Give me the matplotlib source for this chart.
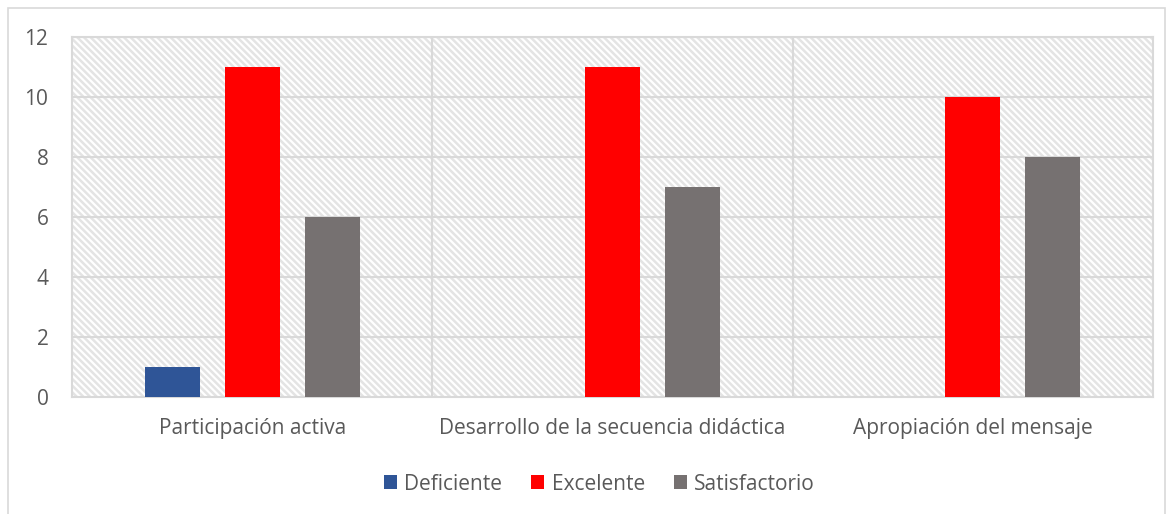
import numpy as np
import matplotlib.pyplot as plt
from matplotlib.patches import Rectangle

categorias = ['Participación activa', 'Desarrollo de la secuencia didáctica', 'Apropiación del mensaje']
series = ['Deficiente', 'Excelente', 'Satisfactorio']
deficiente = [1, 0, 0]
excelente = [11, 11, 10]
satisfactorio = [6, 7, 8]
colores = ['#2F5597', '#FF0000', '#767171']

plt.rcParams['font.family'] = ['Open Sans', 'DejaVu Sans']
plt.rcParams['hatch.color'] = '#E4E4E4'
plt.rcParams['hatch.linewidth'] = 1.8
texto = '#595959'
gris = '#D9D9D9'

fig = plt.figure(figsize=(11.73, 5.14), dpi=100)
ax = fig.add_axes([72 / 1173, 1 - 397 / 514, 1081 / 1173, 360 / 514])

# outer chart border
fig.patches.append(Rectangle((8 / 1173, -0.1), 1157 / 1173, 1.1 - 8 / 514, transform=fig.transFigure,
                             fill=False, edgecolor=gris, linewidth=1.2))

# hatched plot background
ax.add_patch(Rectangle((0, 0), 1, 1, transform=ax.transAxes, facecolor='white',
                       edgecolor='#E4E4E4', hatch='\\\\\\\\\\', linewidth=0, zorder=0))

x = np.arange(len(categorias))
w = 0.153
sep = 0.222
for i, (nombre, vals) in enumerate(zip(series, [deficiente, excelente, satisfactorio])):
    ax.bar(x + (i - 1) * sep, vals, w, color=colores[i], label=nombre, zorder=3)

ax.set_xlim(-0.5, 2.5)
ax.set_ylim(0, 12)
ax.set_yticks(range(0, 13, 2))
ax.set_xticks(x)
ax.set_xticklabels(categorias)
ax.tick_params(axis='both', length=0, labelsize=15, colors=texto)
ax.tick_params(axis='y', pad=17)
ax.tick_params(axis='x', pad=15)

for v in range(2, 13, 2):
    ax.axhline(v, color=gris, linewidth=1.5, zorder=1)
for b in [0.5, 1.5]:
    ax.axvline(b, color=gris, linewidth=1.5, zorder=1)
for s in ax.spines.values():
    s.set_color(gris)
    s.set_linewidth(1.5)

fig.legend(loc='center', bbox_to_anchor=(0.511, 1 - 484 / 514), ncol=3, frameon=False,
           fontsize=15, handlelength=0.62, handleheight=0.62, handletextpad=0.35,
           columnspacing=1.4, labelcolor=texto)

plt.savefig('out.png', dpi=100)
